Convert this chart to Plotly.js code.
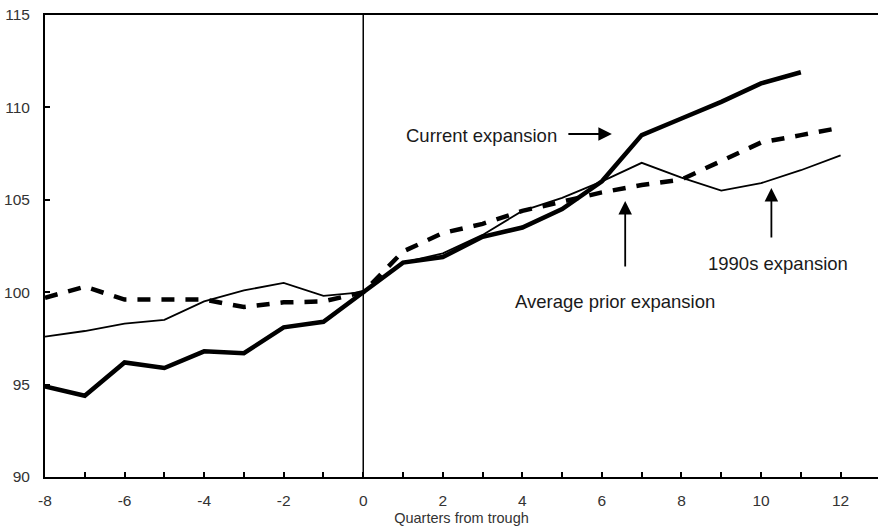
<!DOCTYPE html>
<html>
<head>
<meta charset="utf-8">
<script src="https://cdn.plot.ly/plotly-3.0.1.min.js"></script>
<style>html,body{margin:0;padding:0;background:#fff;}#chart{width:878px;height:528px;}</style>
</head>
<body>
<div id="chart"></div>
<script>
const quarters = [-8,-7,-6,-5,-4,-3,-2,-1,0,1,2,3,4,5,6,7,8,9,10,11,12];
const currentQuarters = [-8,-7,-6,-5,-4,-3,-2,-1,0,1,2,3,4,5,6,7,8,9,10,11];
const currentExpansion = [94.9,94.4,96.2,95.9,96.8,96.7,98.1,98.4,100,101.6,101.9,103.0,103.5,104.5,106.0,108.5,109.4,110.3,111.3,111.9];
const expansion1990s = [97.6,97.9,98.3,98.5,99.5,100.1,100.5,99.8,100,101.6,102.1,103.1,104.4,105.1,106.0,107.0,106.2,105.5,105.9,106.6,107.4];
const averagePrior = [99.7,100.3,99.6,99.6,99.6,99.2,99.45,99.5,100,102.2,103.2,103.7,104.4,104.9,105.4,105.8,106.1,107.1,108.1,108.5,108.9];
const xTickVals = [-8,-7,-6,-5,-4,-3,-2,-1,0,1,2,3,4,5,6,7,8,9,10,11,12];
const xTickText = ['-8','','-6','','-4','','-2','','0','','2','','4','','6','','8','','10','','12'];
const yTickVals = [90,95,100,105,110,115];

const font = 'Liberation Sans, Arial, sans-serif';

const traces = [
  {x: quarters, y: averagePrior, mode: 'lines', name: 'Average prior expansion',
   line: {color: '#000', width: 4.5, dash: '13px,11px'}},
  {x: quarters, y: expansion1990s, mode: 'lines', name: '1990s expansion',
   line: {color: '#000', width: 1.8}},
  {x: currentQuarters, y: currentExpansion, mode: 'lines', name: 'Current expansion',
   line: {color: '#000', width: 4.5}}
];

const annFont = {family: font, size: 18.5, color: '#1a1a1a'};
const layout = {
  width: 878, height: 528,
  margin: {l: 45, r: 0, t: 15, b: 51, pad: 0},
  paper_bgcolor: '#fff', plot_bgcolor: '#fff',
  showlegend: false,
  xaxis: {
    range: [-8, 12.94], tickvals: xTickVals, ticktext: xTickText,
    ticks: 'inside', ticklen: 5, tickwidth: 2, tickcolor: '#000',
    showline: true, linecolor: '#000', linewidth: 2, mirror: true,
    showgrid: false, zeroline: false,
    tickfont: {family: font, size: 15.5, color: '#333'},
    ticklabelstandoff: 8,
    title: {text: 'Quarters from trough', font: {family: font, size: 14.5, color: '#333'}, standoff: 5}
  },
  yaxis: {
    range: [90, 115], tickvals: yTickVals,
    ticks: 'inside', ticklen: 5, tickwidth: 2, tickcolor: '#000',
    showline: true, linecolor: '#000', linewidth: 2, mirror: false,
    showgrid: false, zeroline: false,
    tickfont: {family: font, size: 15.5, color: '#333'},
    ticklabelstandoff: 10
  },
  shapes: [
    {type: 'line', xref: 'x', yref: 'y', x0: 0, x1: 0, y0: 90, y1: 115,
     line: {color: '#000', width: 1.5}}
  ],
  annotations: [
    {x: 2.98, y: 108.5, xref: 'x', yref: 'y', text: 'Current expansion', showarrow: false,
     xanchor: 'center', yanchor: 'middle', font: annFont},
    {x: 6.25, y: 108.56, xref: 'x', yref: 'y', text: '', showarrow: true,
     ax: -45, ay: 0, arrowhead: 2, arrowsize: 1.5, arrowwidth: 1.8, arrowcolor: '#000'},
    {x: 3.757, y: 99.47, xref: 'x', yref: 'y', text: 'Average prior expansion', showarrow: false,
     xanchor: 'left', yanchor: 'middle', font: annFont},
    {x: 6.585, y: 104.94, xref: 'x', yref: 'y', text: '', showarrow: true,
     ax: 0, ay: 67, arrowhead: 2, arrowsize: 1.5, arrowwidth: 1.8, arrowcolor: '#000'},
    {x: 8.61, y: 101.58, xref: 'x', yref: 'y', text: '1990s expansion', showarrow: false,
     xanchor: 'left', yanchor: 'middle', font: annFont},
    {x: 10.26, y: 105.64, xref: 'x', yref: 'y', text: '', showarrow: true,
     ax: 0, ay: 51, arrowhead: 2, arrowsize: 1.5, arrowwidth: 1.8, arrowcolor: '#000'}
  ]
};

Plotly.newPlot('chart', traces, layout, {displayModeBar: false, staticPlot: true});
</script>
</body>
</html>
